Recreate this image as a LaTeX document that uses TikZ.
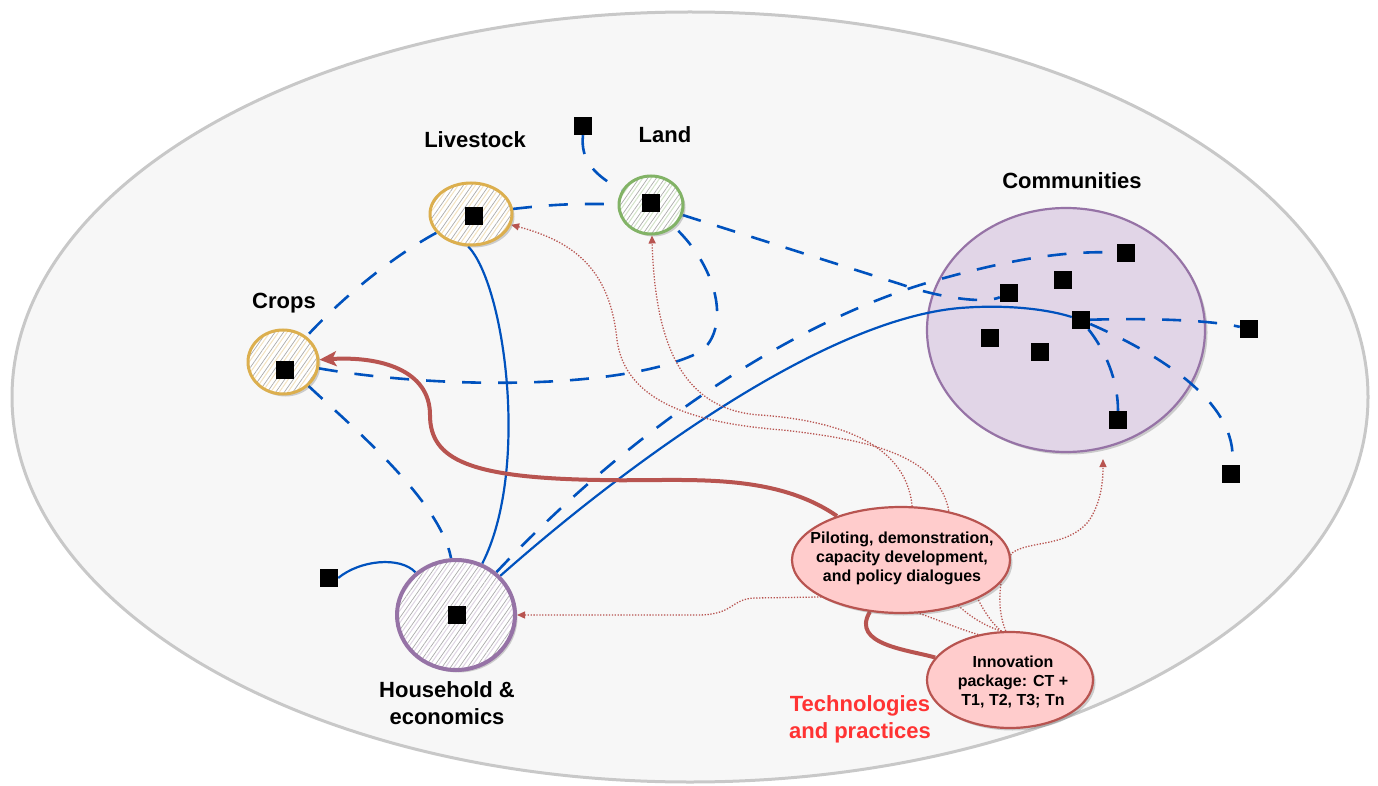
\documentclass[tikz,border=0pt]{standalone}
\usepackage{fontspec}
\setmainfont{Liberation Sans}
\usetikzlibrary{shapes.geometric,arrows.meta,patterns.meta,shadows}

\definecolor{cblue}{HTML}{0052BE}
\definecolor{cyel}{HTML}{DCAF4E}
\definecolor{cgreen}{HTML}{82B366}
\definecolor{cpurple}{HTML}{9673A6}
\definecolor{cpurplefill}{HTML}{E1D5E7}
\definecolor{cred}{HTML}{B85450}
\definecolor{cpink}{HTML}{FFCCCC}
\definecolor{ctech}{HTML}{FF3333}
\definecolor{frameline}{HTML}{C8C8C8}
\definecolor{framefill}{HTML}{F7F7F7}

\pgfdeclarelayer{back}
\pgfdeclarelayer{edges}
\pgfsetlayers{back,edges,main}

\begin{document}
\begin{tikzpicture}[x=1pt,y=-1pt,
  bdash/.style={draw=cblue, line width=2.6pt, dash pattern=on 19pt off 17pt},
  bline/.style={draw=cblue, line width=2.2pt},
  rthick/.style={draw=cred, line width=4pt},
  rdot/.style={draw=cred, line width=1.3pt, dash pattern=on 1.3pt off 1.6pt},
  rtip/.style={-{Triangle[length=8pt,width=7pt]}},
  sq/.style={rectangle, fill=black, draw=none, minimum size=18pt, inner sep=0pt},
  lbl/.style={font=\fontsize{22}{27}\selectfont\bfseries, align=center, inner sep=0pt},
  etext/.style={font=\fontsize{16}{19}\selectfont\bfseries, align=center, inner sep=0pt},
  softshadow/.style={drop shadow={shadow xshift=2.5pt, shadow yshift=-2.5pt, opacity=0.3, fill=black!60}},
  hcirc/.style 2 args={ellipse, inner sep=0pt, softshadow,
    preaction={fill=white},
    preaction={pattern={Lines[angle=55,distance=7pt,xshift=3.5pt,line width=1pt]}, pattern color=#2},
    pattern={Lines[angle=55,distance=7pt,line width=0.7pt]}, pattern color=gray!65,
    draw=#1, line width=3pt},
  pinkell/.style={ellipse, inner sep=0pt, fill=cpink, draw=cred, line width=2.2pt, softshadow},
]
\useasboundingbox (0,0) rectangle (1378,786);

% outer frame and the communities disc sit behind the connectors
\begin{pgfonlayer}{back}
  \node[ellipse, inner sep=0pt, minimum width=1356pt, minimum height=770pt,
        draw=frameline, fill=framefill, line width=3pt] (frame) at (690,397) {};
  \node[ellipse, inner sep=0pt, minimum width=278pt, minimum height=244pt,
        draw=cpurple, fill=cpurplefill, line width=2.2pt, softshadow] (comm) at (1066,330) {};
\end{pgfonlayer}

% domain circles
\node[hcirc={cyel}{cyel!35}, minimum width=82pt, minimum height=62pt] (live) at (471,214) {};
\node[hcirc={cgreen}{cgreen!35}, minimum width=64pt, minimum height=58pt] (land) at (651,205) {};
\node[hcirc={cyel}{cyel!35}, minimum width=70pt, minimum height=64pt] (crops) at (283,362) {};
\node[hcirc={cpurple}{cpurple!30}, minimum width=118pt, minimum height=110pt, line width=4pt] (hh) at (456,615) {};

% interventions
\node[pinkell, minimum width=218pt, minimum height=106pt] (pilot) at (901,560) {};
\node[pinkell, minimum width=166pt, minimum height=96pt] (inno) at (1010,680) {};
\node[etext] (pilotT) at (902,558) {Piloting, demonstration,\\capacity development,\\and policy dialogues};
\node[etext] (innoT) at (1013,682) {Innovation\\package: CT +\\T1, T2, T3; Tn};

% actors
\node[sq] (sLand0) at (583,126) {};
\node[sq] (sLive) at (474,216) {};
\node[sq] (sLand) at (651,203) {};
\node[sq] (sCrops) at (285,370) {};
\node[sq] (sHH) at (457,615) {};
\node[sq] (sHHL) at (329,578) {};
\node[sq] (c1) at (1126,253) {};
\node[sq] (c2) at (1063,280) {};
\node[sq] (c3) at (1009,293) {};
\node[sq] (c4) at (1081,320) {};
\node[sq] (c5) at (990,338) {};
\node[sq] (c6) at (1040,352) {};
\node[sq] (c7) at (1118,420) {};
\node[sq] (o1) at (1249,329) {};
\node[sq] (o2) at (1231,474) {};

% labels
\node[lbl, anchor=base] (tLive) at (475,148) {Livestock};
\node[lbl, anchor=base] (tLand) at (665,143) {Land};
\node[lbl, anchor=base] (tCrops) at (284,308) {Crops};
\node[lbl, anchor=base] (tComm) at (1072,189) {Communities};
\node[lbl] (tHH) at (447,703) {Household \&\\economics};
\node[lbl, text=ctech] (tTech) at (860,719) {Technologies\\and practices};

\coordinate (ctip) at (1103,459);

\begin{pgfonlayer}{edges}
  % dashed links
  \draw[bdash] (sLand0.south) .. controls (580,160) and (595,176) .. (land);
  \draw[bdash] (live) to[bend left=4] (land);
  \draw[bdash] (live) .. controls (390,258) and (340,300) .. (crops);
  \draw[bdash] (land) -- (900,284) .. controls (940,298) and (985,304) .. (c3);
  \draw[bdash] (crops) .. controls (430,388) and (620,392) .. (700,352)
                       .. controls (730,330) and (720,270) .. (land);
  \draw[bdash] (crops) .. controls (350,425) and (440,500) .. (hh.95);
  \draw[bdash] (hh) .. controls (640,420) and (800,320) .. (930,282)
                    .. controls (1000,262) and (1060,250) .. (c1);
  \draw[bdash] (c4) .. controls (1150,318) and (1210,320) .. (o1);
  \draw[bdash] (c4) .. controls (1105,350) and (1118,380) .. (c7);
  \draw[bdash] (c4) .. controls (1150,350) and (1240,400) .. (o2);

  % solid links
  \draw[bline] (live.265) .. controls (505,285) and (530,470) .. (hh);
  \draw[bline] (hh) .. controls (620,470) and (820,320) .. (960,308)
                    .. controls (1010,304) and (1050,310) .. (c4);
  \draw[bline] (sHHL.east) .. controls (360,560) and (400,556) .. (hh);

  % strong influence
  \draw[rthick, -{Stealth[length=17pt,width=15pt,inset=4pt]}]
    (pilot) .. controls (770,470) and (680,482) .. (600,480)
            .. controls (470,478) and (430,460) .. (430,415)
            .. controls (430,370) and (380,356) .. (crops);
  \draw[rthick] (pilot) .. controls (850,645) and (910,650) .. (inno);

  % dotted diffusion paths from the innovation package
  \draw[rdot, rtip] (inno.100) .. controls (950,615) and (915,560) .. (912,505)
      .. controls (905,440) and (830,420) .. (760,415)
      .. controls (680,410) and (655,340) .. (land);
  \draw[rdot, rtip] (inno.100) .. controls (975,610) and (955,545) .. (948,507)
      .. controls (935,455) and (870,440) .. (783,430)
      .. controls (690,423) and (625,400) .. (617,340)
      .. controls (610,270) and (575,242) .. (live);
  \draw[rdot, rtip] (inno.125) .. controls (930,620) and (900,598) .. (820,597)
      -- (755,598) .. controls (730,599) and (735,614) .. (700,615) -- (hh);
  \draw[rdot, rtip] (inno.95) .. controls (995,605) and (1000,570) .. (1012,553)
      .. controls (1030,540) and (1065,548) .. (1088,522)
      .. controls (1100,505) and (1103,485) .. (ctip);
\end{pgfonlayer}
\end{tikzpicture}
\end{document}
